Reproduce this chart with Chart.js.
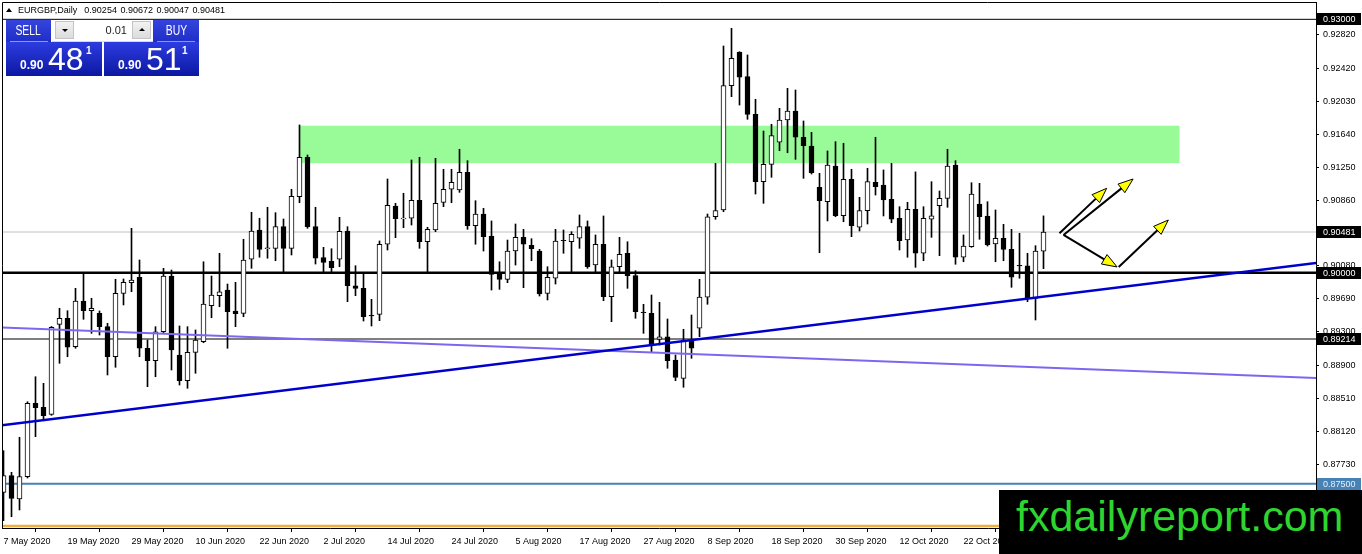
<!DOCTYPE html>
<html>
<head>
<meta charset="utf-8">
<title>EURGBP, Daily</title>
<script src="https://cdn.jsdelivr.net/npm/chart.js@4.4.1/dist/chart.umd.min.js"></script>
<style>
  html, body { margin: 0; padding: 0; background: #fff; }
  #wrap { position: relative; width: 1362px; height: 554px; overflow: hidden; font-family: "Liberation Sans", Arial, sans-serif; }
  #chart { display: block; background: #fff; }
  #hdr { position: absolute; left: 18px; top: 5px; font-size: 9px; line-height: 11px; color: #000; white-space: pre; word-spacing: 1px; }
  #tri { position: absolute; left: 6px; top: 8px; width: 0; height: 0; border-left: 3px solid transparent; border-right: 3px solid transparent; border-bottom: 4px solid #000; }
  .btn { position: absolute; top: 20px; height: 22px; color: #fff; text-align: center; line-height: 21px;
         font-size: 14px; background: linear-gradient(#3444dc, #1e2ec6); }
  .btn span { display: inline-block; transform: scaleX(0.74); }
  .sep { position: absolute; top: 41px; height: 1px; background: #8a98ec; }
  #lot { position: absolute; left: 52px; top: 20px; width: 101px; height: 21px; background: #fff; border-bottom: 1px solid #d8d8d8; }
  .spin { position: absolute; top: 1px; width: 19px; height: 18px; background: linear-gradient(#f2f2f2, #dcdcdc); border: 1px solid #c4c4c4; box-sizing: border-box; }
  .spin i { position: absolute; left: 6px; width: 0; height: 0; border-left: 3px solid transparent; border-right: 3px solid transparent; }
  #dn i { top: 7px; border-top: 3px solid #000; }
  #up i { top: 6px; border-bottom: 3px solid #000; }
  #lotv { position: absolute; left: 22px; width: 53px; top: 0; text-align: right; font-size: 11px; line-height: 21px; color: #222; }
  .px { position: absolute; top: 42px; height: 34px; color: #fff; background: linear-gradient(#2c3ce0, #0c18a2); }
  .px span { position: absolute; white-space: nowrap; }
  .px .s { font-size: 12px; line-height: 12px; font-weight: bold; top: 17px; }
  .px .b { font-size: 32px; line-height: 32px; top: 1px; }
  .px .p { font-size: 10px; line-height: 10px; font-weight: bold; top: 4px; }
  #brand { position: absolute; left: 999px; top: 490px; width: 363px; height: 64px; background: #000; color: #2fd52f;
           font-size: 43px; line-height: 52px; padding-left: 17px; box-sizing: border-box; white-space: nowrap; }
</style>
</head>
<body>
<div id="wrap">
  <canvas id="chart" width="1362" height="554"></canvas>
  <div id="tri"></div>
  <div id="hdr"></div>
  <div class="btn" style="left:6px;width:45px;"><span>SELL</span></div>
  <div class="sep" style="left:10px;width:38px;"></div>
  <div id="lot">
    <div class="spin" id="dn" style="left:3px;"><i></i></div>
    <div id="lotv">0.01</div>
    <div class="spin" id="up" style="left:80px;"><i></i></div>
  </div>
  <div class="btn" style="left:153px;width:46px;"><span>BUY</span></div>
  <div class="sep" style="left:157px;width:38px;"></div>
  <div class="px" style="left:6px;width:96px;"><span class="s" style="left:14px;">0.90</span><span class="b" style="left:42px;">48</span><span class="p" style="left:80px;">1</span></div>
  <div class="px" style="left:104px;width:95px;"><span class="s" style="left:14px;">0.90</span><span class="b" style="left:42px;">51</span><span class="p" style="left:78px;">1</span></div>
  <div id="brand">fxdailyreport.com</div>
</div>
<script>
// EURGBP daily candles, 7 May 2020 .. 5 Nov 2020 (one entry per bar)
const opens = [
  0.87398, 0.87595, 0.87319, 0.87583, 0.88452, 0.88405, 0.88322, 0.89388, 0.89459, 0.89123,
  0.89664, 0.89549, 0.89518, 0.89360, 0.89004, 0.89755, 0.89881, 0.89945, 0.89104, 0.88957,
  0.89300, 0.89960, 0.89024, 0.88720, 0.89056, 0.89182, 0.89608, 0.89727, 0.89794, 0.89546,
  0.89518, 0.90158, 0.90505, 0.90283, 0.90288, 0.90544, 0.90288, 0.90900, 0.91366, 0.90544,
  0.90177, 0.90134, 0.90158, 0.90493, 0.89845, 0.89814, 0.89495, 0.89506, 0.90336, 0.90789,
  0.90635, 0.90644, 0.90857, 0.90366, 0.90505, 0.90833, 0.90987, 0.90979, 0.91188, 0.90556,
  0.90694, 0.90434, 0.89999, 0.89921, 0.90256, 0.90418, 0.90324, 0.90256, 0.89755, 0.89933,
  0.90383, 0.90366, 0.90407, 0.90544, 0.90090, 0.90336, 0.89715, 0.90070, 0.90229, 0.89964,
  0.89534, 0.89518, 0.89210, 0.89241, 0.88965, 0.88748, 0.89202, 0.89341, 0.89709, 0.90662,
  0.90742, 0.92214, 0.92610, 0.92321, 0.91875, 0.91077, 0.91283, 0.91544, 0.91808, 0.91914,
  0.91603, 0.91500, 0.91011, 0.90840, 0.91263, 0.90674, 0.91105, 0.90537, 0.90734, 0.91070,
  0.91038, 0.90868, 0.90644, 0.90386, 0.90750, 0.90229, 0.90632, 0.90793, 0.90880, 0.91275,
  0.90182, 0.90307, 0.90813, 0.90671, 0.90339, 0.90407, 0.90276, 0.90087, 0.90082, 0.89696,
  0.90254
];
const highs = [
  0.87891, 0.87635, 0.88050, 0.88471, 0.88767, 0.88689, 0.89362, 0.89578, 0.89549, 0.89814,
  0.89992, 0.89696, 0.89546, 0.89400, 0.89921, 0.89925, 0.90525, 0.90150, 0.89202, 0.89360,
  0.90051, 0.90031, 0.89368, 0.89360, 0.89321, 0.90129, 0.89960, 0.90229, 0.89865, 0.89885,
  0.90395, 0.90715, 0.90644, 0.90774, 0.90710, 0.90635, 0.90987, 0.91749, 0.91393, 0.90774,
  0.90300, 0.90283, 0.90655, 0.90544, 0.90082, 0.89992, 0.89684, 0.90375, 0.91109, 0.90821,
  0.90940, 0.91334, 0.91366, 0.90537, 0.91354, 0.91224, 0.91224, 0.91461, 0.91326, 0.90852,
  0.90762, 0.90612, 0.90129, 0.90386, 0.90576, 0.90513, 0.90402, 0.90276, 0.90070, 0.90513,
  0.90505, 0.90485, 0.90683, 0.90612, 0.90446, 0.90671, 0.90150, 0.90418, 0.90366, 0.90023,
  0.89625, 0.89735, 0.89649, 0.89451, 0.89024, 0.89329, 0.89498, 0.89921, 0.90694, 0.91295,
  0.92684, 0.92894, 0.92617, 0.92578, 0.92053, 0.91677, 0.91757, 0.91946, 0.92183, 0.92163,
  0.91796, 0.91662, 0.91176, 0.91441, 0.91551, 0.91532, 0.91224, 0.90892, 0.91236, 0.91603,
  0.91216, 0.91295, 0.90781, 0.90833, 0.91193, 0.90781, 0.91077, 0.90967, 0.91461, 0.91326,
  0.90446, 0.91065, 0.91058, 0.90840, 0.90742, 0.90572, 0.90513, 0.90466, 0.90229, 0.90319,
  0.90672
];
const lows = [
  0.87062, 0.87109, 0.87189, 0.87568, 0.88057, 0.88246, 0.88310, 0.88926, 0.89004, 0.89104,
  0.89447, 0.89281, 0.89261, 0.88788, 0.88879, 0.89617, 0.89774, 0.89004, 0.88649, 0.88767,
  0.89281, 0.88847, 0.88669, 0.88630, 0.88808, 0.89170, 0.89466, 0.89596, 0.89104, 0.89360,
  0.89478, 0.90051, 0.90182, 0.90170, 0.90141, 0.89999, 0.90209, 0.90828, 0.90525, 0.90102,
  0.89999, 0.89999, 0.90070, 0.89656, 0.89727, 0.89427, 0.89368, 0.89431, 0.90268, 0.90414,
  0.90532, 0.90564, 0.90288, 0.89999, 0.90485, 0.90781, 0.90828, 0.90951, 0.90513, 0.90336,
  0.90256, 0.89794, 0.89802, 0.89881, 0.90090, 0.89822, 0.90141, 0.89723, 0.89676, 0.89865,
  0.90229, 0.90011, 0.90288, 0.90051, 0.89999, 0.89668, 0.89419, 0.90004, 0.89814, 0.89459,
  0.89281, 0.89064, 0.89143, 0.88867, 0.88720, 0.88642, 0.88985, 0.89241, 0.89625, 0.90632,
  0.90722, 0.92084, 0.91985, 0.91816, 0.90931, 0.90821, 0.91129, 0.91444, 0.91420, 0.91342,
  0.91117, 0.91168, 0.90236, 0.90612, 0.90662, 0.90603, 0.90426, 0.90493, 0.90576, 0.90919,
  0.90671, 0.90591, 0.90268, 0.90182, 0.90063, 0.90141, 0.90418, 0.90201, 0.90774, 0.90099,
  0.90129, 0.90300, 0.90395, 0.90315, 0.90129, 0.90141, 0.89826, 0.89933, 0.89656, 0.89439,
  0.90047
];
const closes = [
  0.87595, 0.87327, 0.87583, 0.88452, 0.88400, 0.88306, 0.89353, 0.89459, 0.89116, 0.89664,
  0.89549, 0.89578, 0.89360, 0.89004, 0.89755, 0.89885, 0.89913, 0.89104, 0.88957, 0.89300,
  0.89960, 0.89084, 0.88720, 0.89056, 0.89202, 0.89628, 0.89735, 0.89774, 0.89537, 0.89514,
  0.90150, 0.90493, 0.90276, 0.90295, 0.90544, 0.90288, 0.90904, 0.91366, 0.90544, 0.90170,
  0.90122, 0.90058, 0.90490, 0.89845, 0.89814, 0.89478, 0.89486, 0.90336, 0.90797, 0.90639,
  0.90645, 0.90857, 0.90366, 0.90513, 0.90821, 0.90987, 0.91070, 0.91188, 0.90556, 0.90694,
  0.90426, 0.89980, 0.89921, 0.90256, 0.90418, 0.90336, 0.90283, 0.89747, 0.89945, 0.90375,
  0.90378, 0.90454, 0.90544, 0.90070, 0.90336, 0.89715, 0.90070, 0.90217, 0.89964, 0.89537,
  0.89527, 0.89143, 0.89241, 0.88957, 0.88760, 0.89202, 0.89104, 0.89709, 0.90662, 0.90734,
  0.92214, 0.92539, 0.92314, 0.91875, 0.91077, 0.91283, 0.91622, 0.91808, 0.91914, 0.91603,
  0.91503, 0.91184, 0.90852, 0.91275, 0.90674, 0.91105, 0.90556, 0.90734, 0.91077, 0.91018,
  0.90860, 0.90632, 0.90378, 0.90750, 0.90229, 0.90644, 0.90674, 0.90880, 0.91263, 0.90182,
  0.90315, 0.90931, 0.90662, 0.90327, 0.90407, 0.90276, 0.89945, 0.90078, 0.89696, 0.90256,
  0.90481
];

// one label every 8 bars
const dateLabels = [
  "7 May 2020", "19 May 2020", "29 May 2020", "10 Jun 2020", "22 Jun 2020", "2 Jul 2020",
  "14 Jul 2020", "24 Jul 2020", "5 Aug 2020", "17 Aug 2020", "27 Aug 2020", "8 Sep 2020",
  "18 Sep 2020", "30 Sep 2020", "12 Oct 2020", "22 Oct 2020", "3 Nov 2020"
];
const yTicks = [0.92820, 0.92420, 0.92030, 0.91640, 0.91250, 0.90860, 0.90470, 0.90080,
                0.89690, 0.89300, 0.88900, 0.88510, 0.88120, 0.87730];

// horizontal levels and highlighted prices on the axis
const levels = [0.93000, 0.90481, 0.90000, 0.89214, 0.87500, 0.87000];
const markedPrices = [0.93000, 0.90481, 0.90000, 0.89214, 0.87500];

// trend lines, given at bar -1 and bar 166
const trendBars = [-1, 166];
const trendUp = [0.88183, 0.90137];
const trendDown = [0.89352, 0.88745];

// supply zone (bar range, price range)
const zoneBars = [37, 147];
const zonePrices = [0.91298, 0.91740];

// projection arrows (bar, price) start -> tip
const arrowX0 = [132.0, 132.5, 132.5, 139.4];
const arrowY0 = [0.90466, 0.90446, 0.90446, 0.90067];
const arrowX1 = [137.9, 141.2, 139.2, 145.6];
const arrowY1 = [0.90999, 0.91109, 0.90067, 0.90623];

// view window
const X_MIN = -0.1875, X_MAX = 164.0625;
const Y_MIN = 0.869754, Y_MAX = 0.932053;

const levelColors = ["#000000", "#c0c0c0", "#000000", "#000000", "#4682b4", "#f2ae3a"];
const levelWidths = [1, 1, 2.5, 1.2, 2, 2.5];
const markFill = ["#000", "#000", "#000", "#000", "#4682b4"];
const markText = ["#fff", "#fff", "#fff", "#fff", "#e8f0ff"];

const n = opens.length;
document.getElementById("hdr").textContent =
  "EURGBP,Daily  " + [opens[n - 1], highs[n - 1], lows[n - 1], closes[n - 1]].map(v => v.toFixed(5)).join(" ");

Chart.defaults.font.family = '"Liberation Sans", Arial, sans-serif';
Chart.defaults.font.size = 9;
Chart.defaults.color = "#000";

const idx = opens.map((_, i) => i);
const bodies = idx.map(i => ({ x: i, y: [opens[i], closes[i]] }));
const wicks = idx.map(i => ({ x: i, y: [lows[i], highs[i]] }));
const bodyFill = idx.map(i => (closes[i] >= opens[i] ? "#ffffff" : "#000000"));

const levelSets = levels.map((lv, k) => ({
  type: "line",
  data: [{ x: X_MIN - 2, y: lv }, { x: X_MAX + 2, y: lv }],
  borderColor: levelColors[k],
  borderWidth: levelWidths[k],
  pointRadius: 0,
  order: 5
}));

const trendSets = [
  { data: trendUp, color: "#0000cd", width: 2.4 },
  { data: trendDown, color: "#7b68ee", width: 2 }
].map(t => ({
  type: "line",
  data: trendBars.map((b, k) => ({ x: b, y: t.data[k] })),
  borderColor: t.color,
  borderWidth: t.width,
  pointRadius: 0,
  order: 0
}));

const overlay = {
  id: "overlay",
  beforeDatasetsDraw(chart) {
    const { ctx, chartArea: a, scales: { x, y } } = chart;
    ctx.save();
    ctx.beginPath();
    ctx.rect(a.left, a.top, a.right - a.left, a.bottom - a.top);
    ctx.clip();
    const x0 = x.getPixelForValue(zoneBars[0]), x1 = x.getPixelForValue(zoneBars[1]);
    const y0 = y.getPixelForValue(zonePrices[1]), y1 = y.getPixelForValue(zonePrices[0]);
    ctx.fillStyle = "#98fb98";
    ctx.fillRect(x0, y0, x1 - x0, y1 - y0);
    ctx.restore();
  },
  afterDatasetsDraw(chart) {
    const { ctx, scales: { x, y } } = chart;
    ctx.save();
    for (let i = 0; i < arrowX0.length; i++) {
      const sx = x.getPixelForValue(arrowX0[i]), sy = y.getPixelForValue(arrowY0[i]);
      const ex = x.getPixelForValue(arrowX1[i]), ey = y.getPixelForValue(arrowY1[i]);
      const len = Math.hypot(ex - sx, ey - sy);
      const ux = (ex - sx) / len, uy = (ey - sy) / len;
      const bx = ex - ux * 15, by = ey - uy * 15;
      ctx.strokeStyle = "#000";
      ctx.lineWidth = 2;
      ctx.beginPath();
      ctx.moveTo(sx, sy);
      ctx.lineTo(bx, by);
      ctx.stroke();
      ctx.beginPath();
      ctx.moveTo(ex, ey);
      ctx.lineTo(bx - uy * 5.5, by + ux * 5.5);
      ctx.lineTo(bx + uy * 5.5, by - ux * 5.5);
      ctx.closePath();
      ctx.fillStyle = "#ffff00";
      ctx.fill();
      ctx.lineWidth = 1;
      ctx.stroke();
    }
    ctx.restore();
  },
  afterDraw(chart) {
    const { ctx, chartArea: a, scales: { y } } = chart;
    ctx.save();
    ctx.strokeStyle = "#000";
    ctx.lineWidth = 1;
    ctx.beginPath();
    ctx.moveTo(a.left + 0.5, a.bottom);
    ctx.lineTo(a.left + 0.5, a.top + 0.5);
    ctx.lineTo(a.right, a.top + 0.5);
    ctx.stroke();
    ctx.font = '9px "Liberation Sans", Arial, sans-serif';
    ctx.textBaseline = "middle";
    markedPrices.forEach((p, k) => {
      const py = Math.round(y.getPixelForValue(p));
      ctx.fillStyle = markFill[k];
      ctx.fillRect(a.right + 1, py - 6, 44, 12);
      ctx.fillStyle = markText[k];
      ctx.fillText(p.toFixed(5), a.right + 7, py + 0.5);
    });
    ctx.restore();
  }
};

new Chart(document.getElementById("chart"), {
  type: "bar",
  data: {
    datasets: [
      ...trendSets,
      {
        data: bodies,
        backgroundColor: bodyFill,
        borderColor: "#000",
        borderWidth: 1,
        borderSkipped: false,
        barThickness: 5,
        grouped: false,
        order: 1
      },
      {
        data: wicks,
        backgroundColor: "#000",
        borderWidth: 0,
        barThickness: 1,
        grouped: false,
        order: 2
      },
      ...levelSets
    ]
  },
  options: {
    responsive: false,
    animation: false,
    layout: { padding: { left: 2, top: 2, right: 0, bottom: 0 } },
    plugins: { legend: { display: false }, tooltip: { enabled: false } },
    scales: {
      x: {
        type: "linear",
        min: X_MIN,
        max: X_MAX,
        offset: false,
        grid: { display: true, drawOnChartArea: false, tickLength: 4, tickColor: "#000" },
        border: { display: true, color: "#000" },
        ticks: {
          autoSkip: false,
          maxRotation: 0,
          align: "start",
          padding: 4,
          callback: v => dateLabels[Math.round(v / 8)] || ""
        },
        afterBuildTicks: s => { s.ticks = dateLabels.map((_, k) => ({ value: k * 8 })); },
        afterFit: s => { s.height = 26; s.paddingLeft = 0; s.paddingRight = 0; }
      },
      y: {
        type: "linear",
        position: "right",
        min: Y_MIN,
        max: Y_MAX,
        grid: { display: true, drawOnChartArea: false, tickLength: 3, tickColor: "#000" },
        border: { display: true, color: "#000" },
        ticks: { padding: 4, callback: v => Number(v).toFixed(5) },
        afterBuildTicks: s => { s.ticks = yTicks.map(v => ({ value: v })); },
        afterFit: s => { s.width = 46; s.paddingTop = 0; s.paddingBottom = 0; }
      }
    }
  },
  plugins: [overlay]
});
</script>
</body>
</html>
